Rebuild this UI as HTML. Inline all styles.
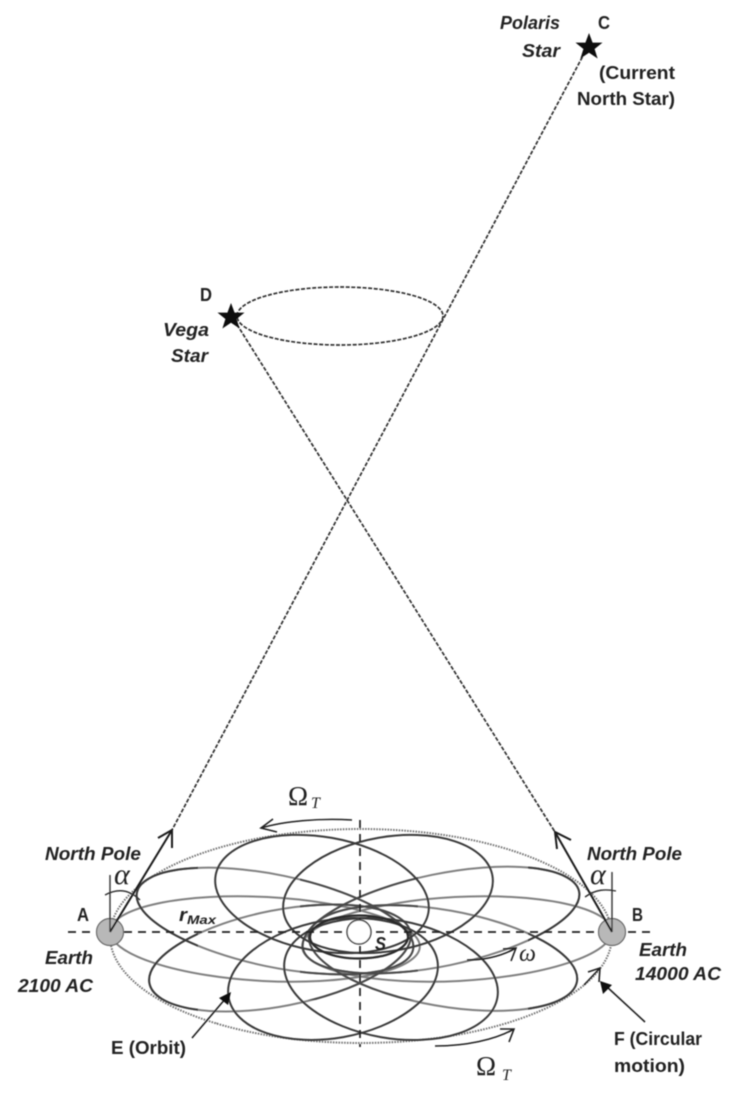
<!DOCTYPE html>
<html><head><meta charset="utf-8"><style>
html,body{margin:0;padding:0;background:#fff;width:739px;height:1097px;overflow:hidden}
svg{display:block}
text{font-family:"Liberation Sans",sans-serif;fill:#222}
.b{font-weight:bold;font-size:18px}
.i{font-weight:bold;font-style:italic;font-size:18px}
.g{font-family:"Liberation Serif",serif;font-size:27px;fill:#222}
.gi{font-family:"Liberation Serif",serif;font-style:italic;font-size:30px;fill:#222}
</style></head><body>
<svg width="739" height="1097" viewBox="0 0 739 1097" xmlns="http://www.w3.org/2000/svg">
<defs>
<filter id="bl" x="0" y="0" width="100%" height="100%"><feGaussianBlur stdDeviation="0.55"/></filter>
<clipPath id="cl"><rect x="100" y="850" width="98" height="180"/></clipPath>
<clipPath id="cr"><rect x="528" y="850" width="97" height="180"/></clipPath>
<clipPath id="cc"><rect x="300" y="870" width="118" height="130"/></clipPath>
</defs>
<g filter="url(#bl)">
<!-- long dashed -->
<g fill="none" stroke="#333" stroke-width="1.7" stroke-dasharray="4 1.6">
<line x1="585" y1="52" x2="172" y2="830"/>
<line x1="231" y1="315" x2="555" y2="832"/>
<ellipse cx="340" cy="316" rx="103" ry="29"/>
</g>
<!-- outer dotted -->
<ellipse cx="361" cy="936" rx="251" ry="107" fill="none" stroke="#777" stroke-width="2" stroke-dasharray="1.6 1.2"/>
<!-- gray orbits -->
<g fill="none" stroke="#808080" stroke-width="2">
<ellipse cx="265" cy="939" rx="155" ry="42" transform="rotate(3 265 939)"/>
<ellipse cx="457" cy="939" rx="155" ry="42" transform="rotate(-3 457 939)"/>
<ellipse cx="275" cy="921" rx="141" ry="46" transform="rotate(11.7 275 921)"/>
<ellipse cx="441" cy="920" rx="141" ry="46" transform="rotate(-11.7 441 920)"/>
<ellipse cx="280" cy="958" rx="133" ry="48" transform="rotate(-11 280 958)"/>
<ellipse cx="443" cy="958" rx="136" ry="48" transform="rotate(10 443 958)"/>
</g>
<g fill="none" stroke="#3a3a3a" stroke-width="2">
<g clip-path="url(#cl)">
<ellipse cx="275" cy="921" rx="141" ry="46" transform="rotate(11.7 275 921)"/>
<ellipse cx="280" cy="958" rx="133" ry="48" transform="rotate(-11 280 958)"/>
</g>
<g clip-path="url(#cr)">
<ellipse cx="441" cy="920" rx="141" ry="46" transform="rotate(-11.7 441 920)"/>
<ellipse cx="443" cy="958" rx="136" ry="48" transform="rotate(10 443 958)"/>
</g>
<g clip-path="url(#cc)" stroke="#4a4a4a">
<ellipse cx="275" cy="921" rx="141" ry="46" transform="rotate(11.7 275 921)"/>
<ellipse cx="441" cy="920" rx="141" ry="46" transform="rotate(-11.7 441 920)"/>
<ellipse cx="280" cy="958" rx="133" ry="48" transform="rotate(-11 280 958)"/>
<ellipse cx="443" cy="958" rx="136" ry="48" transform="rotate(10 443 958)"/>
</g>
<!-- black orbits -->
<ellipse cx="322" cy="894" rx="108" ry="57" transform="rotate(10 322 894)"/>
<ellipse cx="388" cy="894" rx="106" ry="57" transform="rotate(-10 388 894)"/>
<ellipse cx="333" cy="979" rx="106" ry="59" transform="rotate(-10 333 979)"/>
<ellipse cx="391" cy="979" rx="108" ry="59" transform="rotate(10 391 979)"/>
<ellipse cx="359" cy="937" rx="49" ry="21.5" stroke="#2c2c2c" stroke-width="2.2"/>
</g>
<!-- axes -->
<g stroke="#222" stroke-width="1.7" stroke-dasharray="8 6" fill="none">
<line x1="68" y1="932" x2="652" y2="932"/>
<line x1="360" y1="820" x2="360" y2="1047"/>
</g>
<!-- bodies -->
<circle cx="110" cy="932" r="13.5" fill="#b8b8b8" stroke="#666" stroke-width="1.2"/>
<circle cx="612" cy="932" r="13.5" fill="#b8b8b8" stroke="#666" stroke-width="1.2"/>
<circle cx="359" cy="932" r="12" fill="#fff" stroke="#444" stroke-width="1.5"/>
<!-- north arrows -->
<g fill="none" stroke="#1c1c1c" stroke-width="2">
<path d="M110 932L172 830M158 838L172 830L172 848" />
<path d="M612 932L555 832M571 840L555 832L557 849" />
</g>
<g fill="none" stroke="#333" stroke-width="1.4">
<path d="M110 875V932M105 895C118 888 130 890 140 900"/>
<path d="M612 872V932M585 897C596 889 606 889 616 891"/>
</g>
<!-- motion arrows -->
<g fill="none" stroke="#222" stroke-width="1.6">
<path d="M352 820C320 818 285 821 261 828M273 819L261 828L277 832"/>
<path d="M435 1046C465 1046 495 1040 514 1029M500 1029L514 1029L509 1042"/>
<path d="M467 960C485 960 502 956 516 948M503 949L516 948L511 961"/>
<path d="M584 985L600 968M588 972L600 968L599 982"/>
<path d="M192 1038L226 998"/>
<path d="M645 1022L606 986"/>
</g>
<polygon points="231,992 219,998 228,1005" fill="#111"/>
<polygon points="600,981 603,994 612,985" fill="#111"/>
<!-- stars -->
<polygon points="589,33 592.6,42.6 602.5,42.6 594.6,49 597.6,58.5 589,52.8 580.4,58.5 583.4,49 575.5,42.6 585.4,42.6" fill="#111"/>
<polygon points="231,303 234.6,312.6 244.5,312.6 236.6,319 239.6,328.5 231,322.8 222.4,328.5 225.4,319 217.5,312.6 227.4,312.6" fill="#111"/>
<!-- text -->
<text class="i" x="500" y="29" textLength="60" lengthAdjust="spacingAndGlyphs">Polaris</text>
<text class="i" x="522" y="57" textLength="38" lengthAdjust="spacingAndGlyphs">Star</text>
<text class="b" x="598" y="29" textLength="12" lengthAdjust="spacingAndGlyphs">C</text>
<text class="b" x="599" y="79" textLength="76" lengthAdjust="spacingAndGlyphs">(Current</text>
<text class="b" x="577" y="105" textLength="98" lengthAdjust="spacingAndGlyphs">North Star)</text>
<text class="b" x="200" y="301" textLength="12" lengthAdjust="spacingAndGlyphs">D</text>
<text class="i" x="163" y="336" textLength="46" lengthAdjust="spacingAndGlyphs">Vega</text>
<text class="i" x="171" y="362" textLength="37" lengthAdjust="spacingAndGlyphs">Star</text>
<text class="i" x="45" y="860" textLength="96" lengthAdjust="spacingAndGlyphs">North Pole</text>
<text class="i" x="587" y="860" textLength="95" lengthAdjust="spacingAndGlyphs">North Pole</text>
<text class="b" x="77" y="921" textLength="12" lengthAdjust="spacingAndGlyphs">A</text>
<text class="b" x="632" y="921" textLength="11" lengthAdjust="spacingAndGlyphs">B</text>
<text class="i" x="45" y="964" textLength="48" lengthAdjust="spacingAndGlyphs">Earth</text>
<text class="i" x="18" y="992" textLength="75" lengthAdjust="spacingAndGlyphs">2100 AC</text>
<text class="i" x="639" y="956" textLength="48" lengthAdjust="spacingAndGlyphs">Earth</text>
<text class="i" x="635" y="980" textLength="86" lengthAdjust="spacingAndGlyphs">14000 AC</text>
<text class="i" x="179" y="921" textLength="8" lengthAdjust="spacingAndGlyphs">r</text>
<text class="i" x="187" y="924" style="font-size:12px" textLength="29" lengthAdjust="spacingAndGlyphs">Max</text>
<text class="i" x="375" y="950" textLength="11" lengthAdjust="spacingAndGlyphs">S</text>
<text class="b" x="111" y="1054" textLength="75" lengthAdjust="spacingAndGlyphs">E (Orbit)</text>
<text class="b" x="614" y="1045" textLength="88" lengthAdjust="spacingAndGlyphs">F (Circular</text>
<text class="b" x="614" y="1072" textLength="71" lengthAdjust="spacingAndGlyphs">motion)</text>
<text class="g" x="288" y="805">Ω</text>
<text class="gi" x="311" y="808" style="font-size:16px">T</text>
<text class="g" x="476" y="1075">Ω</text>
<text class="gi" x="502" y="1080" style="font-size:16px">T</text>
<text class="gi" x="114" y="884">α</text>
<text class="gi" x="590" y="884">α</text>
<text class="gi" x="519" y="961" style="font-size:24px">ω</text>
</g>
</svg>
</body></html>
